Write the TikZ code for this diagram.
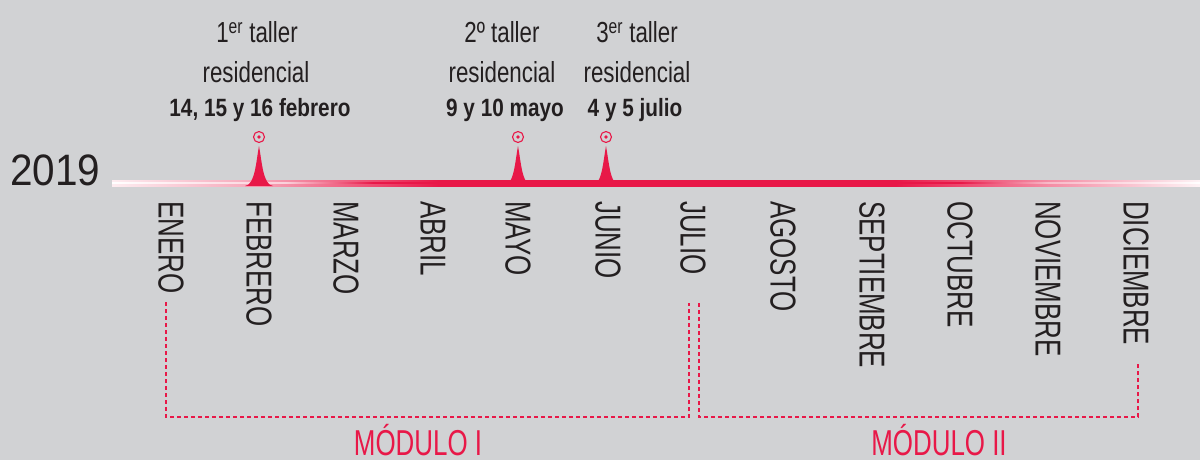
\documentclass[tikz,border=0pt]{standalone}
\usepackage{fontspec}
\setmainfont{Liberation Sans}
\newfontfamily\monthfont[FakeStretch=0.72]{Liberation Sans}
\newfontfamily\labfont[FakeStretch=0.77]{Liberation Sans}
\newfontfamily\datefont[FakeStretch=0.83]{Liberation Sans Bold}
\newfontfamily\yearfont[FakeStretch=0.92]{Liberation Sans}
\definecolor{tred}{RGB}{232,24,72}
\definecolor{bg}{RGB}{209,210,212}
\definecolor{ink}{RGB}{35,31,32}
\pgfdeclarehorizontalshading{tband}{100bp}{color(0bp)=(tred!8!white); color(25bp)=(tred!8!white); color(32bp)=(tred!40!white); color(40bp)=(tred); color(61bp)=(tred); color(68bp)=(tred!50!white); color(75bp)=(tred!5!white); color(100bp)=(tred!5!white)}
\pgfdeclarehorizontalshading{tmid}{100bp}{color(0bp)=(white); color(25bp)=(white); color(33bp)=(tred!20!white); color(37bp)=(tred); color(64bp)=(tred); color(68bp)=(tred!30!white); color(75bp)=(white); color(100bp)=(white)}
\begin{document}
\begin{tikzpicture}[x=1pt,y=-1pt,
  month/.style={font=\monthfont\fontsize{36}{36}\selectfont, text=ink, rotate=-90, anchor=west, inner sep=0pt},
  lab/.style={font=\labfont\fontsize{29}{29}\selectfont, text=ink, anchor=base, inner sep=0pt},
  datelab/.style={font=\datefont\fontsize{25}{25}\selectfont, text=ink, anchor=base, inner sep=0pt},
  modlab/.style={font=\monthfont\fontsize{36}{36}\selectfont, text=tred, anchor=base, inner sep=0pt},
  bracket/.style={draw=tred, line width=1.5pt, dash pattern=on 4pt off 3pt},
  target/.style={circle, draw=tred, line width=1.1pt, minimum size=11pt, inner sep=0pt}]
\fill[bg] (0,0) rectangle (1200,460);
\useasboundingbox (0,0) rectangle (1200,460);

% year
\node[anchor=base west, inner sep=0pt, font=\yearfont\fontsize{44}{44}\selectfont, text=ink] (year) at (10,185) {2019};

% timeline
\shade[shading=tband] (112,180) rectangle (1200,186);
\shade[shading=tmid] (112,182.6) rectangle (1200,183.6);

% peaks and targets
\foreach \px/\nm in {259/t1,518/t2,606/t3}{
  \fill[tred] ({\px-14},186) .. controls ({\px-4},185) and ({\px-3},162) .. (\px,146)
     .. controls ({\px+3},162) and ({\px+4},185) .. ({\px+14},186) -- cycle;
  \node[target] (\nm) at (\px,137) {};
  \fill[tred] (\nm.center) circle (1.8pt);
}

% workshop labels
\node[lab] (l1a) at (257,43) {1\textsuperscript{er} taller};
\node[lab] (l1b) at (256,82) {residencial};
\node[datelab] (l1c) at (260,117) {14, 15 y 16 febrero};
\node[lab] (l2a) at (502,43) {2º taller};
\node[lab] (l2b) at (502,82) {residencial};
\node[datelab] (l2c) at (505,117) {9 y 10 mayo};
\node[lab] (l3a) at (637,43) {3\textsuperscript{er} taller};
\node[lab] (l3b) at (637,82) {residencial};
\node[datelab] (l3c) at (635,117) {4 y 5 julio};

% months
\foreach \m/\xx [count=\i from 0] in {ENERO/171,FEBRERO/259,MARZO/346,ABRIL/433,MAYO/518,JUNIO/608,JULIO/693,AGOSTO/783,SEPTIEMBRE/872,OCTUBRE/960,NOVIEMBRE/1048,DICIEMBRE/1136}{
  \node[month] (m\i) at (\xx,201) {\m};
}

% module brackets
\coordinate (b1) at (166,302);
\coordinate (b2) at (166,417);
\coordinate (b3) at (689,417);
\coordinate (b4) at (689,303);
\coordinate (c1) at (699,303);
\coordinate (c2) at (699,417);
\coordinate (c3) at (1138,417);
\coordinate (c4) at (1138,363);
\draw[bracket] (b1) -- (b2) -- (b3) -- (b4);
\draw[bracket] (c1) -- (c2) -- (c3) -- (c4);

\node[modlab] (mod1) at (418,455) {MÓDULO I};
\node[modlab] (mod2) at (939,455) {MÓDULO II};
\end{tikzpicture}
\end{document}
